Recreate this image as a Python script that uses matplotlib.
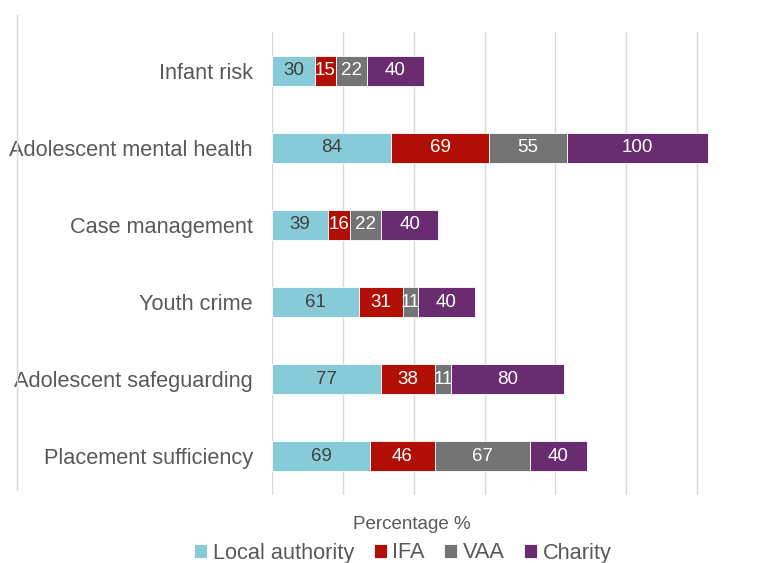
import numpy as np
import matplotlib.pyplot as plt
from matplotlib.lines import Line2D

plt.rcParams['font.family'] = ['Liberation Sans', 'DejaVu Sans']

# Data
categories = ["Infant risk", "Adolescent mental health", "Case management",
              "Youth crime", "Adolescent safeguarding", "Placement sufficiency"]
series_names = ["Local authority", "IFA", "VAA", "Charity"]
local_authority = [30, 84, 39, 61, 77, 69]
ifa = [15, 69, 16, 31, 38, 46]
vaa = [22, 55, 22, 11, 11, 67]
charity = [40, 100, 40, 40, 80, 40]

colors = ["#87CAD8", "#B10F06", "#747474", "#6A2C70"]
label_colors = ["#404040", "white", "white", "white"]

fig = plt.figure(figsize=(7.59, 5.63), dpi=100)
W, H = 759, 563
# plot area in pixels: left 272, right off the edge, top 32, bottom 495
ax = fig.add_axes([272.3 / W, 1 - 495 / H, (W - 272.3) / W, (495 - 32) / H])

y = np.arange(len(categories))
left = np.zeros(len(categories))
for name, vals, c, tc in zip(series_names, [local_authority, ifa, vaa, charity], colors, label_colors):
    bars = ax.barh(y, vals, left=left, height=0.39, color=c, edgecolor="white",
                   linewidth=0.6, label=name)
    ax.bar_label(bars, labels=[str(v) for v in vals], label_type="center",
                 color=tc, fontsize=13.5)
    left += np.array(vals)

ax.set_xlim(0, (W - 272.3) / 1.4157)
ax.set_ylim(len(categories) - 0.5, -0.5)
ax.set_xticks(np.arange(0, 301, 50))
ax.set_xticklabels([])
ax.tick_params(axis="x", length=0)
ax.tick_params(axis="y", length=0, pad=14, labelsize=15.7, labelcolor="#595959")
ax.set_yticks(y)
ax.set_yticklabels(categories)
ax.grid(axis="x", color="#D9D9D9", linewidth=1)
ax.set_axisbelow(True)
for s in ax.spines.values():
    s.set_visible(False)

ax.set_xlabel("Percentage %", fontsize=13.5, color="#595959")
ax.xaxis.set_label_coords((412 - 272.3) / (W - 272.3), -(516 - 495) / (495 - 32))

leg = fig.legend(loc="center", bbox_to_anchor=(403 / W, 1 - 553 / H), ncol=4,
                 frameon=False, fontsize=15.7, handlelength=0.6, handleheight=0.6,
                 handletextpad=0.25, columnspacing=0.9, labelcolor="#595959")

# outer border line on the left
fig.add_artist(Line2D([17 / W, 17 / W], [1 - 15 / H, 1 - 490 / H],
                      color="#D9D9D9", linewidth=1))

plt.savefig("out.png", dpi=100)
